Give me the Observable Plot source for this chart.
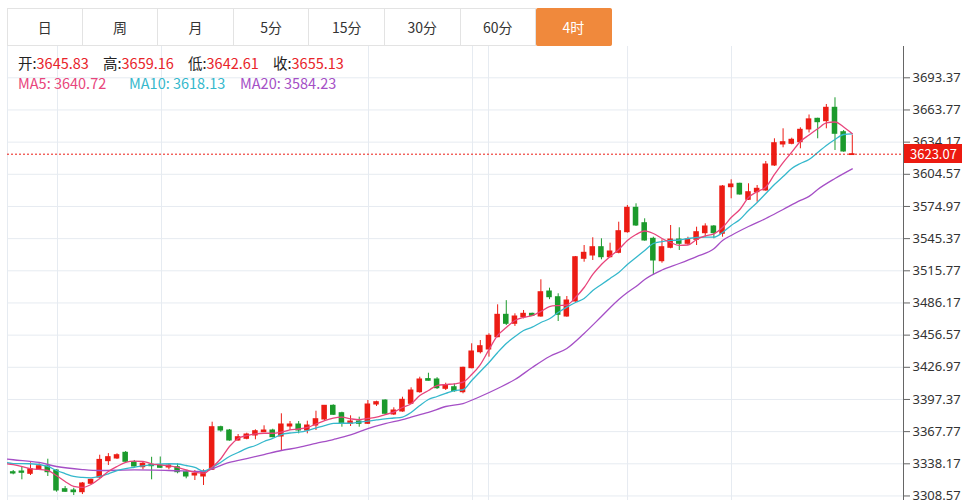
<!DOCTYPE html>
<html><head><meta charset="utf-8">
<script src="https://cdn.jsdelivr.net/npm/d3@7"></script>
<script src="https://cdn.jsdelivr.net/npm/@observablehq/plot@0.6"></script>
<style>
body{margin:0;background:#fff;font-family:"Noto Sans CJK SC","Noto Sans",sans-serif;}
#wrap{position:relative;width:962px;height:500px;overflow:hidden;}
#tabs{position:absolute;left:7px;top:8px;display:flex;}
.tab{width:75.6px;height:38px;box-sizing:border-box;border:1px solid #e3e3e3;border-left:none;display:flex;align-items:center;justify-content:center;font-size:14px;color:#333;}
.tab:first-child{border-left:1px solid #e3e3e3;}
.tab.active{background:#f0893c;color:#fff;border-color:#f0893c;border-radius:2px;}
#chart{position:absolute;left:0;top:46px;}
#legend{position:absolute;left:0;top:0;width:400px;height:100px;font-size:14.5px;}
#legend .g{position:absolute;white-space:pre;line-height:20px;}
#pricetag{position:absolute;left:904px;width:58px;height:19px;background:#ec1a10;color:#fff;font-size:13px;line-height:19px;text-align:left;padding-left:6px;box-sizing:border-box;}
</style></head>
<body>
<div id="wrap">
  <div id="chart"></div>
  <div id="tabs"></div>
  <div id="legend"></div>
  <div id="pricetag"></div>
</div>
<script>
const tabs = ["日","周","月","5分","15分","30分","60分","4时"];
const activeTab = "4时";
const opens = [3330.44,3331.08,3328.97,3332.65,3335.69,3332.01,3314.80,3313.61,3312.04,3319.77,3325.47,3340.60,3343.05,3348.29,3339.64,3335.04,3337.25,3336.61,3334.77,3335.04,3330.44,3327.40,3326.49,3332.65,3371.85,3368.81,3359.61,3361.18,3364.21,3367.25,3368.81,3363.29,3372.50,3374.34,3368.81,3373.41,3378.94,3391.54,3384.73,3374.98,3377.10,3374.98,3392.74,3396.42,3383.54,3386.30,3393.38,3404.06,3416.13,3415.75,3407.18,3408.64,3404.06,3426.15,3440.87,3443.35,3454.66,3475.27,3466.99,3473.05,3476.19,3473.71,3496.72,3491.47,3473.71,3487.52,3526.81,3529.85,3537.49,3528.28,3532.33,3551.29,3573.74,3559.57,3545.22,3524.60,3536.93,3544.56,3540.60,3544.29,3550.37,3556.53,3549.82,3592.70,3595.83,3581.10,3588.10,3589.66,3612.67,3632.01,3632.63,3634.11,3645.83,3655.64,3653.43,3665.76,3643.31,3622.30];
const highs = [3332.01,3335.04,3339.09,3338.17,3342.40,3332.65,3317.24,3315.68,3320.97,3324.00,3346.08,3347.56,3347.37,3349.49,3341.21,3339.64,3344.17,3344.44,3338.17,3338.17,3332.01,3332.01,3332.65,3376.45,3372.77,3369.74,3365.13,3366.33,3369.46,3373.14,3370.00,3384.18,3377.09,3377.09,3377.37,3386.57,3391.82,3392.46,3385.65,3382.34,3381.05,3396.42,3395.78,3397.06,3389.70,3399.46,3408.11,3417.86,3421.50,3417.44,3412.34,3411.57,3427.07,3448.60,3451.63,3457.80,3484.47,3488.30,3476.19,3479.23,3476.74,3507.48,3499.77,3494.61,3492.12,3528.93,3539.05,3546.14,3545.22,3541.17,3560.49,3575.86,3577.42,3563.62,3546.69,3544.30,3557.45,3555.34,3546.69,3555.89,3559.02,3557.45,3594.26,3599.51,3596.38,3595.83,3594.26,3616.35,3637.24,3646.44,3637.79,3647.36,3659.16,3656.19,3668.80,3674.97,3644.87,3640.30];
const lows = [3328.05,3323.45,3327.40,3332.01,3326.49,3312.04,3311.90,3308.96,3309.88,3319.13,3324.92,3336.61,3342.13,3338.73,3335.04,3332.65,3323.45,3334.00,3332.65,3328.97,3324.37,3322.80,3318.21,3332.01,3367.25,3358.97,3358.97,3360.26,3360.26,3367.00,3362.10,3349.77,3368.81,3365.78,3365.78,3368.81,3378.02,3382.62,3371.85,3372.49,3371.85,3374.34,3390.90,3383.54,3382.62,3385.65,3392.74,3403.14,3414.30,3406.57,3405.62,3404.06,3402.59,3425.60,3439.28,3436.30,3454.12,3465.43,3464.58,3471.52,3473.71,3473.05,3489.23,3469.11,3473.05,3486.88,3523.69,3525.25,3525.89,3527.73,3531.41,3550.37,3556.54,3543.01,3511.44,3522.77,3536.01,3534.45,3539.05,3539.05,3546.69,3545.22,3546.69,3582.03,3585.34,3580.46,3578.89,3589.02,3611.75,3628.96,3631.71,3628.03,3642.61,3637.24,3646.44,3626.47,3624.90,3621.90];
const closes = [3329.25,3329.89,3333.20,3335.96,3330.44,3313.61,3312.41,3312.04,3320.05,3323.45,3341.76,3344.28,3346.08,3340.01,3335.69,3338.17,3335.96,3334.49,3336.61,3330.44,3326.49,3328.97,3331.08,3371.85,3368.81,3359.61,3362.65,3365.13,3368.17,3368.81,3362.65,3374.34,3374.34,3368.81,3373.41,3379.21,3391.54,3383.26,3374.98,3377.10,3374.98,3392.74,3394.86,3384.18,3387.22,3397.06,3405.62,3415.75,3414.57,3407.74,3410.22,3404.96,3426.52,3441.52,3446.39,3455.96,3475.27,3466.99,3473.71,3476.19,3474.35,3496.07,3491.47,3475.27,3488.44,3528.28,3532.33,3537.49,3528.28,3533.53,3552.21,3573.74,3557.46,3543.65,3525.25,3537.49,3544.56,3540.60,3544.56,3551.29,3556.53,3550.37,3593.34,3595.19,3585.98,3588.10,3591.23,3613.57,3633.19,3634.11,3636.32,3645.52,3655.13,3652.51,3665.76,3641.84,3625.55,3623.07];
const ma5 = [[0,3338.4],[1,3337.5],[3,3333.8],[5,3332.0],[6,3327.4],[7,3321.9],[8,3317.3],[9,3316.4],[10,3319.1],[11,3324.6],[12,3331.1],[13,3335.7],[14,3339.4],[15,3340.6],[16,3340.3],[17,3338.2],[18,3337.1],[19,3336.2],[20,3334.8],[21,3332.5],[22,3330.2],[23,3329.5],[24,3335.0],[25,3342.8],[26,3354.1],[27,3361.5],[28,3364.2],[29,3365.8],[30,3366.3],[31,3366.3],[32,3367.4],[33,3369.3],[34,3370.2],[35,3371.6],[36,3374.8],[37,3378.0],[38,3380.3],[39,3381.1],[40,3379.6],[41,3378.7],[42,3379.9],[43,3381.1],[44,3383.5],[45,3385.7],[46,3390.0],[47,3393.4],[48,3401.0],[49,3405.6],[50,3410.2],[51,3411.1],[52,3411.8],[53,3413.3],[54,3420.3],[55,3429.5],[56,3443.3],[57,3456.3],[58,3463.6],[59,3470.0],[60,3472.8],[61,3474.6],[62,3478.3],[63,3482.9],[64,3483.8],[65,3484.3],[66,3491.2],[67,3500.4],[68,3512.4],[69,3521.6],[70,3528.9],[71,3535.4],[72,3543.6],[73,3549.2],[74,3552.4],[75,3550.1],[76,3545.5],[77,3541.8],[78,3539.1],[79,3539.5],[80,3544.6],[81,3547.8],[82,3549.8],[83,3555.6],[84,3564.8],[85,3572.2],[86,3583.2],[87,3588.7],[88,3592.7],[89,3604.4],[90,3615.4],[91,3624.9],[92,3634.8],[93,3640.72],[94,3646.4],[95,3651.8],[96,3652.7],[97,3648.1],[98,3641.8]];
const ma10 = [[0,3339.6],[1,3338.4],[3,3338.2],[5,3335.7],[6,3332.0],[7,3329.2],[8,3326.5],[9,3325.6],[10,3325.3],[11,3326.5],[12,3329.0],[13,3332.0],[14,3333.8],[15,3335.0],[17,3337.1],[19,3338.2],[20,3338.0],[21,3336.6],[22,3334.8],[23,3331.5],[24,3334.8],[25,3339.6],[26,3344.9],[27,3348.6],[28,3352.3],[29,3355.0],[30,3358.7],[31,3361.5],[32,3365.1],[33,3366.5],[34,3367.3],[35,3368.8],[36,3371.1],[37,3373.4],[38,3375.3],[39,3375.5],[40,3375.5],[41,3376.6],[42,3377.4],[43,3378.5],[44,3379.6],[45,3380.3],[46,3381.2],[47,3385.4],[48,3391.8],[49,3397.3],[50,3400.1],[51,3402.9],[52,3405.6],[53,3406.3],[54,3414.8],[55,3423.1],[56,3431.4],[57,3440.6],[58,3448.9],[59,3455.3],[60,3460.8],[61,3463.9],[62,3468.2],[63,3471.6],[64,3477.4],[65,3482.3],[66,3486.6],[67,3490.3],[68,3497.6],[69,3503.2],[70,3508.7],[71,3514.2],[72,3521.6],[73,3528.0],[74,3534.5],[75,3540.9],[76,3542.7],[77,3543.7],[78,3544.1],[79,3545.5],[80,3546.4],[81,3546.7],[82,3546.7],[83,3551.0],[84,3557.5],[85,3563.0],[86,3571.3],[87,3578.6],[88,3586.9],[89,3595.2],[90,3602.5],[91,3609.9],[92,3614.5],[93,3618.13],[94,3624.6],[95,3631.1],[96,3636.6],[97,3641.2],[98,3641.8]];
const ma20 = [[0,3342.8],[1,3341.9],[4,3339.4],[6,3335.7],[9,3332.9],[11,3332.0],[15,3332.5],[19,3332.0],[23,3331.1],[24,3333.6],[26,3339.4],[28,3343.0],[30,3346.7],[32,3350.4],[34,3353.2],[36,3356.9],[38,3360.5],[40,3364.7],[42,3370.6],[44,3375.2],[46,3378.9],[47,3381.1],[49,3385.4],[51,3390.9],[53,3393.6],[55,3400.1],[57,3407.5],[59,3415.7],[61,3426.8],[63,3436.9],[65,3444.3],[67,3458.1],[69,3473.7],[71,3489.4],[72,3495.8],[73,3501.3],[74,3507.8],[76,3516.5],[78,3522.5],[80,3528.9],[82,3536.0],[83,3543.7],[84,3548.3],[86,3556.5],[88,3563.9],[90,3572.2],[92,3580.5],[93,3584.23],[94,3590.6],[96,3600.7],[98,3609.6]];
const yTicks = [3308.57,3338.17,3367.77,3397.37,3426.97,3456.57,3486.17,3515.77,3545.37,3574.97,3604.57,3634.17,3663.77,3693.37];
const gridX = [6.12,18.14,42.07,54.1,55.95,72.02,84.04];
const legendOHLC = [["开","3645.83"],["高","3659.16"],["低","3642.61"],["收","3655.13"]];
const legendMA = [["MA5","3640.72"],["MA10","3618.13"],["MA20","3584.23"]];
const lastPrice = 3623.07;

const RED = "#ec1c14", GREEN = "#1b9a2c";
const MA_COLORS = ["#e8457c", "#35b8cc", "#a54fc6"];
const xDomain = [0.34, 103.92];
const yDomain = [3304.4, 3722.17];

const candles = closes.map((c, k) => ({i: k + 1, open: opens[k], high: highs[k], low: lows[k], close: c}));
const col = d => d.close >= d.open ? RED : GREEN;
const toPts = arr => arr.map(([i, v]) => ({i, v}));

const plot = Plot.plot({
  width: 962, height: 454,
  marginLeft: 7, marginRight: 59, marginTop: 0, marginBottom: 0,
  style: {fontFamily: "'Noto Sans','DejaVu Sans',sans-serif", fontSize: "13px", color: "#333", background: "transparent"},
  x: {type: "linear", domain: xDomain, axis: null},
  y: {domain: yDomain, axis: null},
  marks: [
    Plot.ruleY(yTicks, {stroke: "#e6ebf1", strokeOpacity: 1}),
    Plot.ruleX(gridX, {stroke: "#e6ebf1", strokeOpacity: 1}),
    Plot.ruleX([xDomain[0]], {stroke: "#e6ebf1", strokeOpacity: 1}),
    Plot.ruleX(candles, {x: "i", y1: "low", y2: "high", stroke: col, strokeWidth: 1}),
    Plot.rect(candles, {x1: d => d.i - 0.32, x2: d => d.i + 0.32, y1: "open", y2: "close", fill: col, insetTop: -0.5, insetBottom: -0.5}),
    Plot.line(toPts(ma20), {x: "i", y: "v", stroke: MA_COLORS[2], strokeWidth: 1.3, curve: "monotone-x", clip: true}),
    Plot.line(toPts(ma10), {x: "i", y: "v", stroke: MA_COLORS[1], strokeWidth: 1.3, curve: "monotone-x", clip: true}),
    Plot.line(toPts(ma5), {x: "i", y: "v", stroke: MA_COLORS[0], strokeWidth: 1.3, curve: "monotone-x", clip: true}),
    Plot.ruleY([lastPrice], {stroke: RED, strokeDasharray: "2,2", strokeWidth: 1}),
    Plot.ruleX([xDomain[1]], {stroke: "#666"}),
    Plot.axisY({anchor: "right", ticks: yTicks, tickFormat: d => d.toFixed(2), tickSize: 6, tickPadding: 3, stroke: "#666", fill: "#333"})
  ]
});
document.getElementById("chart").appendChild(plot);

const tabsEl = document.getElementById("tabs");
tabs.forEach(t => {
  const d = document.createElement("div");
  d.className = "tab" + (t === activeTab ? " active" : "");
  d.textContent = t;
  tabsEl.appendChild(d);
});

const lg = document.getElementById("legend");
const ohlcX = [18, 103, 188, 273];
const maX = [18, 129, 240];
legendOHLC.forEach(([k, v], j) => {
  const s = document.createElement("div");
  s.className = "g";
  s.style.left = ohlcX[j] + "px"; s.style.top = "53px";
  s.innerHTML = `<span style="color:#222">${k}:</span><span style="color:#e8242a">${v}</span>`;
  lg.appendChild(s);
});
legendMA.forEach(([k, v], j) => {
  const s = document.createElement("div");
  s.className = "g";
  s.style.left = maX[j] + "px"; s.style.top = "73px";
  s.style.color = MA_COLORS[j];
  s.textContent = `${k}: ${v}`;
  lg.appendChild(s);
});

const tag = document.getElementById("pricetag");
tag.textContent = lastPrice.toFixed(2);
tag.style.top = (46 + plot.scale("y").apply(lastPrice) - 9.5) + "px";
</script>
</body></html>
